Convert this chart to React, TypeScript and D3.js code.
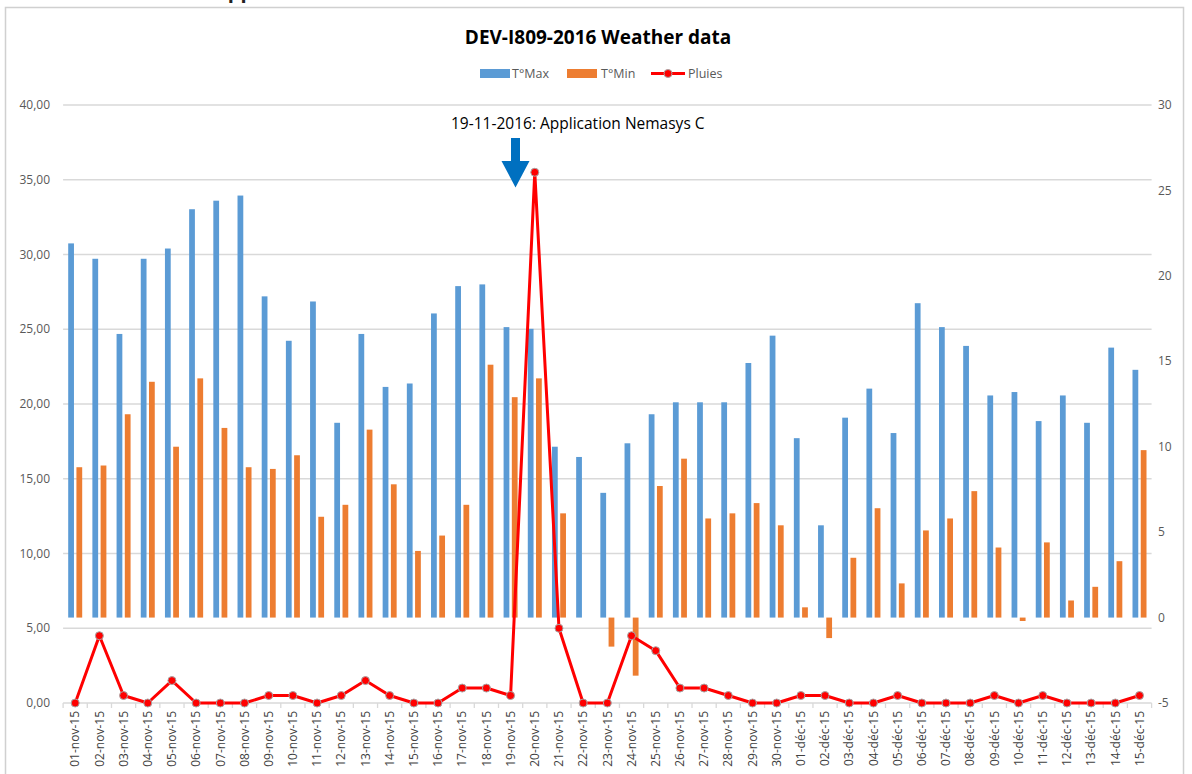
import { useEffect, useRef } from "react";
import * as d3 from "d3";

// categories (days)
const days: string[] = [
  "01-nov-15", "02-nov-15", "03-nov-15", "04-nov-15", "05-nov-15", "06-nov-15",
  "07-nov-15", "08-nov-15", "09-nov-15", "10-nov-15", "11-nov-15", "12-nov-15",
  "13-nov-15", "14-nov-15", "15-nov-15", "16-nov-15", "17-nov-15", "18-nov-15",
  "19-nov-15", "20-nov-15", "21-nov-15", "22-nov-15", "23-nov-15", "24-nov-15",
  "25-nov-15", "26-nov-15", "27-nov-15", "28-nov-15", "29-nov-15", "30-nov-15",
  "01-déc-15", "02-déc-15", "03-déc-15", "04-déc-15", "05-déc-15", "06-déc-15",
  "07-déc-15", "08-déc-15", "09-déc-15", "10-déc-15", "11-déc-15", "12-déc-15",
  "13-déc-15", "14-déc-15", "15-déc-15",
];

// T°Max (secondary axis)
const tMax: number[] = [
  21.9, 21.0, 16.6, 21.0, 21.6, 23.9, 24.4, 24.7, 18.8, 16.2, 18.5, 11.4,
  16.6, 13.5, 13.7, 17.8, 19.4, 19.5, 17.0, 16.9, 10.0, 9.4, 7.3, 10.2,
  11.9, 12.6, 12.6, 12.6, 14.9, 16.5, 10.5, 5.4, 11.7, 13.4, 10.8, 18.4,
  17.0, 15.9, 13.0, 13.2, 11.5, 13.0, 11.4, 15.8, 14.5,
];

// T°Min (secondary axis)
const tMin: number[] = [
  8.8, 8.9, 11.9, 13.8, 10.0, 14.0, 11.1, 8.8, 8.7, 9.5, 5.9, 6.6,
  11.0, 7.8, 3.9, 4.8, 6.6, 14.8, 12.9, 14.0, 6.1, 0, -1.7, -3.4,
  7.7, 9.3, 5.8, 6.1, 6.7, 5.4, 0.6, -1.2, 3.5, 6.4, 2.0, 5.1,
  5.8, 7.4, 4.1, -0.2, 4.4, 1.0, 1.8, 3.3, 9.8,
];

// Pluies (primary axis)
const rain: number[] = [
  0, 4.5, 0.5, 0, 1.5, 0, 0, 0, 0.5, 0.5, 0, 0.5,
  1.5, 0.5, 0, 0, 1.0, 1.0, 0.5, 35.5, 5.0, 0, 0, 4.5,
  3.5, 1.0, 1.0, 0.5, 0, 0, 0.5, 0.5, 0, 0, 0.5, 0,
  0, 0, 0.5, 0, 0.5, 0, 0, 0, 0.5,
];

const leftTicks: number[] = [0, 5, 10, 15, 20, 25, 30, 35, 40];
const rightTicks: number[] = [-5, 0, 5, 10, 15, 20, 25, 30];

const FONT = "'Open Sans', 'Liberation Sans', sans-serif";
const BLUE = "#5b9bd5";
const ORANGE = "#ed7d31";
const RED = "#ff0000";

export default function App() {
  const ref = useRef<SVGSVGElement>(null);

  useEffect(() => {
    const svg = d3.select(ref.current);
    svg.selectAll("*").remove();

    const plot = { left: 63.1, right: 1151.6, top: 105, bottom: 703 };

    const x = d3.scaleBand<string>().domain(days).range([plot.left, plot.right]);
    const sub = d3
      .scaleBand<string>()
      .domain(["max", "min"])
      .range([0, 14])
      .paddingInner(0.3);
    const yLeft = d3.scaleLinear().domain([0, 40]).range([plot.bottom, plot.top]);
    const yRight = d3.scaleLinear().domain([-5, 30]).range([plot.bottom, plot.top]);
    const cx = (d: string) => (x(d) as number) + x.bandwidth() / 2;

    // cut off heading above the chart
    svg
      .append("text")
      .attr("x", 214)
      .attr("y", -2)
      .attr("font-family", FONT)
      .attr("font-size", 20)
      .attr("font-weight", "bold")
      .attr("fill", "#222")
      .text("Application");

    // gridlines (primary axis)
    svg
      .append("g")
      .selectAll("line")
      .data(leftTicks)
      .join("line")
      .attr("x1", plot.left)
      .attr("x2", plot.right)
      .attr("y1", (d) => yLeft(d))
      .attr("y2", (d) => yLeft(d))
      .attr("stroke", "#d9d9d9")
      .attr("stroke-width", 1.3);

    // category ticks
    svg
      .append("g")
      .selectAll("line")
      .data(d3.range(days.length + 1))
      .join("line")
      .attr("x1", (i) => plot.left + i * x.step())
      .attr("x2", (i) => plot.left + i * x.step())
      .attr("y1", plot.bottom)
      .attr("y2", plot.bottom + 5)
      .attr("stroke", "#d9d9d9")
      .attr("stroke-width", 1.3);

    // left axis labels
    svg
      .append("g")
      .selectAll("text")
      .data(leftTicks)
      .join("text")
      .attr("x", 50)
      .attr("y", (d) => yLeft(d))
      .attr("dy", "0.35em")
      .attr("text-anchor", "end")
      .attr("font-family", FONT)
      .attr("font-size", 12)
      .attr("fill", "#595959")
      .text((d) => d3.format(".2f")(d).replace(".", ","));

    // right axis labels
    svg
      .append("g")
      .selectAll("text")
      .data(rightTicks)
      .join("text")
      .attr("x", 1158)
      .attr("y", (d) => yRight(d))
      .attr("dy", "0.35em")
      .attr("font-family", FONT)
      .attr("font-size", 12)
      .attr("fill", "#595959")
      .text((d) => String(d));

    // x labels
    svg
      .append("g")
      .selectAll("text")
      .data(days)
      .join("text")
      .attr("transform", (d) => `translate(${cx(d)},711) rotate(-90)`)
      .attr("dy", "0.35em")
      .attr("text-anchor", "end")
      .attr("font-family", FONT)
      .attr("font-size", 12)
      .attr("fill", "#404040")
      .text((d) => d);

    // bars (secondary axis)
    const bars = [
      { key: "max", values: tMax, color: BLUE },
      { key: "min", values: tMin, color: ORANGE },
    ];
    bars.forEach((s) => {
      svg
        .append("g")
        .selectAll("rect")
        .data(s.values)
        .join("rect")
        .attr("x", (_, i) => cx(days[i]) - 7 + (sub(s.key) as number))
        .attr("y", (v) => yRight(Math.max(0, v)))
        .attr("width", sub.bandwidth())
        .attr("height", (v) => Math.abs(yRight(v) - yRight(0)))
        .attr("fill", s.color);
    });

    // rain line (primary axis)
    const line = d3
      .line<number>()
      .x((_, i) => cx(days[i]))
      .y((v) => yLeft(v));
    svg
      .append("path")
      .datum(rain)
      .attr("d", line)
      .attr("fill", "none")
      .attr("stroke", RED)
      .attr("stroke-width", 3)
      .attr("stroke-linejoin", "round");
    svg
      .append("g")
      .selectAll("circle")
      .data(rain)
      .join("circle")
      .attr("cx", (_, i) => cx(days[i]))
      .attr("cy", (v) => yLeft(v))
      .attr("r", 4)
      .attr("fill", RED)
      .attr("stroke", "#a6a6a6")
      .attr("stroke-width", 1);

    // title
    svg
      .append("text")
      .attr("x", 598)
      .attr("y", 44)
      .attr("text-anchor", "middle")
      .attr("font-family", FONT)
      .attr("font-size", 19)
      .attr("font-weight", "bold")
      .attr("fill", "#000")
      .text("DEV-I809-2016 Weather data");

    // legend
    const lg = svg.append("g").attr("font-family", FONT).attr("font-size", 12.5).attr("fill", "#595959");
    lg.append("rect").attr("x", 480).attr("y", 69).attr("width", 30).attr("height", 9).attr("fill", BLUE);
    lg.append("text").attr("x", 512).attr("y", 78).text("T°Max");
    lg.append("rect").attr("x", 567).attr("y", 69).attr("width", 30).attr("height", 9).attr("fill", ORANGE);
    lg.append("text").attr("x", 601).attr("y", 78).text("T°Min");
    lg.append("line").attr("x1", 651).attr("x2", 685).attr("y1", 73.5).attr("y2", 73.5).attr("stroke", RED).attr("stroke-width", 3);
    lg.append("circle").attr("cx", 668).attr("cy", 73.5).attr("r", 4).attr("fill", RED).attr("stroke", "#a6a6a6");
    lg.append("text").attr("x", 688).attr("y", 78).text("Pluies");

    // annotation
    svg
      .append("text")
      .attr("x", 451)
      .attr("y", 129)
      .attr("font-family", FONT)
      .attr("font-size", 15.5)
      .attr("fill", "#000")
      .text("19-11-2016: Application Nemasys C");

    svg
      .append("path")
      .attr("d", "M511,138 L520,138 L520,161 L529.5,161 L515.5,187.5 L501.5,161 L511,161 Z")
      .attr("fill", "#0070c0");

    // chart frame
    svg
      .append("rect")
      .attr("x", 5.5)
      .attr("y", 7.5)
      .attr("width", 1178)
      .attr("height", 790)
      .attr("fill", "none")
      .attr("stroke", "#d0d0d0")
      .attr("stroke-width", 1.5);
  }, []);

  return (
    <div style={{ position: "absolute", left: 0, top: 0, width: 1192, height: 774, overflow: "hidden" }}>
      <svg ref={ref} width={1192} height={774} style={{ display: "block" }} />
    </div>
  );
}
